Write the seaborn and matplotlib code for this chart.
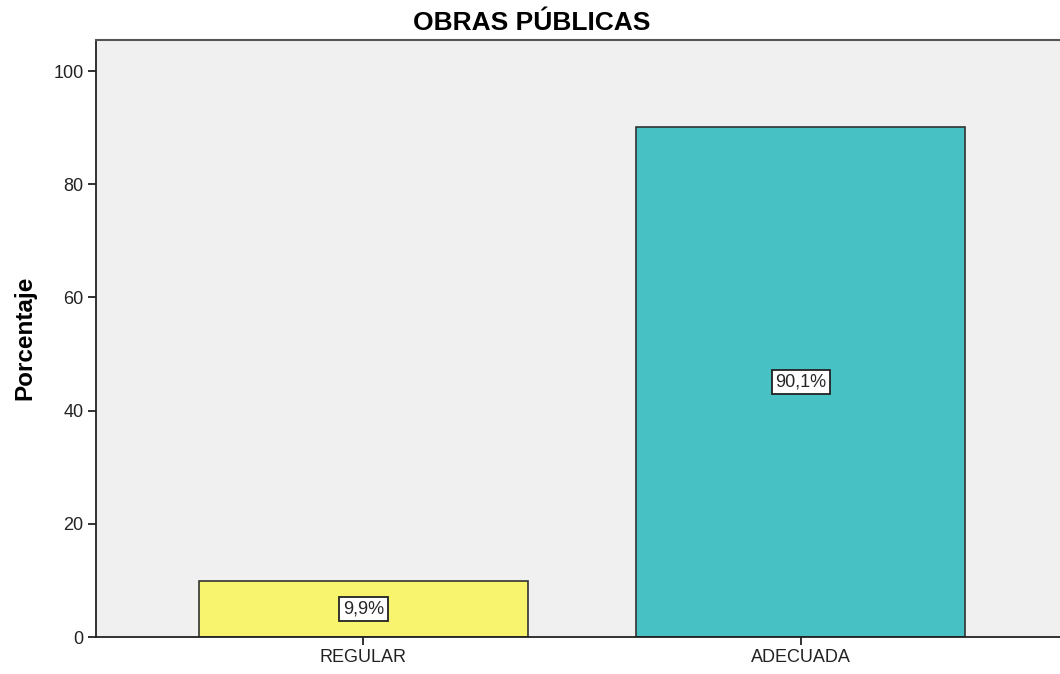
import pandas as pd
import seaborn as sns
import matplotlib.pyplot as plt

categorias = ["REGULAR", "ADECUADA"]
porcentajes = [9.9, 90.1]
etiquetas = ["9,9%", "90,1%"]
colores = ["#F8F46E", "#48C1C4"]

sns.set_style("white")
plt.rcParams["font.family"] = ["Liberation Sans", "DejaVu Sans"]

df = pd.DataFrame({"categoria": categorias, "porcentaje": porcentajes})

fig = plt.figure(figsize=(10.6, 6.74), dpi=100)
ax = fig.add_axes([96 / 1060, 1 - 637 / 674, (1060 - 96) / 1060, (637 - 40) / 674])
ax.set_facecolor("#F0F0F0")

sns.barplot(data=df, x="categoria", y="porcentaje", hue="categoria",
            palette=colores, saturation=1, width=0.752, edgecolor="#333333",
            linewidth=1.2, legend=False, ax=ax)

for i, (v, t) in enumerate(zip(porcentajes, etiquetas)):
    ax.text(i, v / 2, t, ha="center", va="center", fontsize=13,
            bbox=dict(boxstyle="square,pad=0.2", fc="white", ec="#222222", lw=1.3))

ax.set_xlim(-0.611, 1.592)
ax.set_ylim(0, 105.5)
ax.set_yticks([0, 20, 40, 60, 80, 100])
ax.set_xlabel("")
ax.set_ylabel("")
fig.text(25 / 1060, 1 - 338 / 674, "Porcentaje", rotation=90, ha="center", va="center",
         fontsize=17.5, fontweight="bold", color="black")
fig.text(532 / 1060, 1 - 30 / 674, "OBRAS PÚBLICAS", ha="center", va="baseline",
         fontsize=19, fontweight="bold", color="black")
ax.tick_params(axis="both", labelsize=13, length=6, width=1.3, direction="out",
               bottom=True, left=True, colors="#222222", pad=3)

for s in ["left", "bottom"]:
    ax.spines[s].set_color("#222222")
    ax.spines[s].set_linewidth(1.3)
ax.spines["top"].set_color("#555555")
ax.spines["top"].set_linewidth(1.5)
ax.spines["right"].set_visible(False)

fig.savefig("out.png", dpi=100)
